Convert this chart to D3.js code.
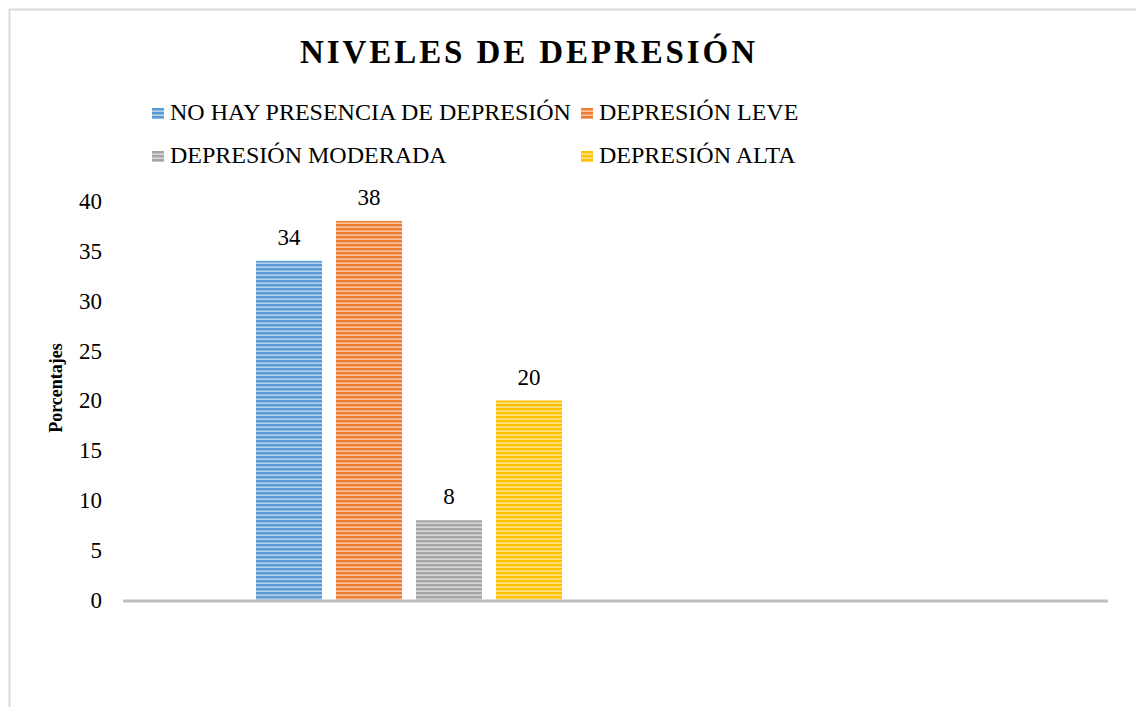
<!DOCTYPE html>
<html>
<head>
<meta charset="utf-8">
<script src="https://cdn.jsdelivr.net/npm/d3@7"></script>
<style>
  body { margin: 0; background: #fff; }
  text { font-family: "Liberation Serif", "Times New Roman", serif; fill: #000; }
</style>
</head>
<body>
<script>
const series = ['NO HAY PRESENCIA DE DEPRESIÓN', 'DEPRESIÓN LEVE', 'DEPRESIÓN MODERADA', 'DEPRESIÓN ALTA']
const values = [34, 38, 8, 20]
const colors = ['#5b9bd5', '#ed7d31', '#a5a5a5', '#ffc000']
const yTicks = [0, 5, 10, 15, 20, 25, 30, 35, 40]

const W = 1136, H = 707
const margin = {top: 201, left: 123, right: 28, bottom: 107}

const svg = d3.select('body').append('svg')
    .attr('width', W)
    .attr('height', H)

// stripe patterns for bars
const defs = svg.append('defs')
colors.forEach((c, i) => {
  const p = defs.append('pattern')
      .attr('id', 'stripe' + i)
      .attr('patternUnits', 'userSpaceOnUse')
      .attr('width', 8).attr('height', 4)
  p.append('rect').attr('width', 8).attr('height', 4).attr('fill', d3.interpolateRgb(c, '#fff')(0.55))
  p.append('rect').attr('width', 8).attr('height', 2.4).attr('fill', c)
})

// chart border
svg.append('rect')
    .attr('x', 9.5).attr('y', 9.5)
    .attr('width', W + 20).attr('height', H + 20)
    .attr('fill', 'none')
    .attr('stroke', '#d9d9d9')
    .attr('stroke-width', 2)

const yScale = d3.scaleLinear()
    .domain([0, 40])
    .range([H - margin.bottom, margin.top])

const xScale = d3.scaleBand()
    .domain(series)
    .range([256, 562])
    .paddingInner(0.175)
    .paddingOuter(0)

// title
svg.append('text')
    .attr('x', 529)
    .attr('y', 63)
    .attr('text-anchor', 'middle')
    .style('font-size', '33px')
    .style('font-weight', 'bold')
    .style('letter-spacing', '2.9px')
    .text('NIVELES DE DEPRESIÓN')

// legend
const legendPos = [[152, 120], [581, 120], [152, 163], [581, 163]]
const legend = svg.selectAll('.legend').data(series)
  .enter().append('g')
    .attr('class', 'legend')
    .attr('transform', (d, i) => 'translate(' + legendPos[i][0] + ',' + legendPos[i][1] + ')')
legend.append('rect')
    .attr('x', 0).attr('y', -12)
    .attr('width', 12).attr('height', 11)
    .attr('fill', (d, i) => 'url(#stripe' + i + ')')
legend.append('text')
    .attr('x', 18)
    .attr('y', 0)
    .style('font-size', '24px')
    .text(d => d)

// y axis labels (no axis line)
const yAxis = svg.append('g')
    .attr('transform', 'translate(102,0)')
    .call(d3.axisLeft(yScale).tickValues(yTicks).tickSize(0).tickPadding(0))
yAxis.select('.domain').remove()
yAxis.selectAll('text')
    .style('font-family', '"Liberation Serif", serif')
    .style('font-size', '23px')
    .attr('fill', '#000')

svg.append('text')
    .attr('transform', 'translate(62,388)rotate(-90)')
    .attr('text-anchor', 'middle')
    .style('font-size', '18px')
    .style('font-weight', 'bold')
    .text('Porcentajes')

// bars
svg.selectAll('.bar').data(values)
  .enter().append('rect')
    .attr('class', 'bar')
    .attr('x', (d, i) => xScale(series[i]))
    .attr('y', d => yScale(d))
    .attr('width', xScale.bandwidth())
    .attr('height', d => yScale(0) - yScale(d))
    .attr('fill', (d, i) => 'url(#stripe' + i + ')')

// value labels
svg.selectAll('.label').data(values)
  .enter().append('text')
    .attr('class', 'label')
    .attr('x', (d, i) => xScale(series[i]) + xScale.bandwidth() / 2)
    .attr('y', d => yScale(d) - 16)
    .attr('text-anchor', 'middle')
    .style('font-size', '23px')
    .text(d => d)

// baseline
svg.append('line')
    .attr('x1', margin.left).attr('x2', W - margin.right)
    .attr('y1', yScale(0) + 1).attr('y2', yScale(0) + 1)
    .attr('stroke', '#bfbfbf')
    .attr('stroke-width', 3)
</script>
</body>
</html>
